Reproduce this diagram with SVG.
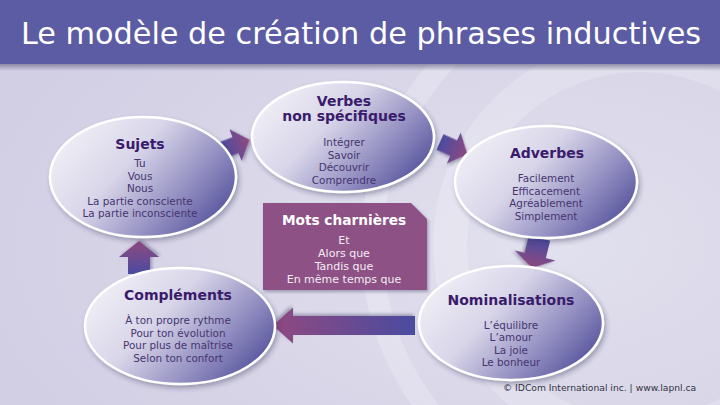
<svg xmlns="http://www.w3.org/2000/svg" width="720" height="405" viewBox="0 0 720 405">
  <defs>
    <radialGradient id="bg" cx="0.75" cy="0.6" r="0.8">
      <stop offset="0" stop-color="#e2e1ee"/>
      <stop offset="1" stop-color="#d2cee4"/>
    </radialGradient>
    <linearGradient id="barShadow" x1="0" y1="0" x2="0" y2="1">
      <stop offset="0" stop-color="#6e6c8c" stop-opacity="0.7"/>
      <stop offset="1" stop-color="#6e6c8c" stop-opacity="0"/>
    </linearGradient>
    <linearGradient id="ell" x1="0.05" y1="0.25" x2="1" y2="0.8">
      <stop offset="0" stop-color="#eeedf5"/>
      <stop offset="0.35" stop-color="#d8d5e9"/>
      <stop offset="0.72" stop-color="#8d89be"/>
      <stop offset="1" stop-color="#4d4c97"/>
    </linearGradient>
    <linearGradient id="arr" x1="0" y1="0" x2="1" y2="0">
      <stop offset="0" stop-color="#4a4ba0"/>
      <stop offset="1" stop-color="#904a80"/>
    </linearGradient>
    <filter id="shadow" x="-20%" y="-20%" width="140%" height="150%">
      <feDropShadow dx="2" dy="3" stdDeviation="2.5" flood-color="#2d2a50" flood-opacity="0.35"/>
    </filter>
    <filter id="ashadow" x="-30%" y="-30%" width="160%" height="160%">
      <feDropShadow dx="1.5" dy="2" stdDeviation="1.5" flood-color="#2d2a50" flood-opacity="0.35"/>
    </filter>
    <style>
      .ell { fill: url(#ell); stroke: #ffffff; stroke-width: 2.5; filter: url(#shadow); }
      .arrow { fill: url(#arr); filter: url(#ashadow); }
      .t { font-family: "DejaVu Sans", Verdana, sans-serif; font-weight: bold; font-size: 14px; fill: #3a1b6b; text-anchor: middle; }
      .i { font-family: "DejaVu Sans", Verdana, sans-serif; font-size: 10.4px; fill: #46356f; text-anchor: middle; }
      .bt { font-family: "DejaVu Sans", Verdana, sans-serif; font-weight: bold; font-size: 13.7px; fill: #ffffff; text-anchor: middle; }
      .bi { font-family: "DejaVu Sans", Verdana, sans-serif; font-size: 11px; fill: #f4ecf4; text-anchor: middle; }
    </style>
  </defs>

  <!-- background -->
  <rect x="0" y="0" width="720" height="405" fill="url(#bg)"/>
  <circle cx="640" cy="245" r="268" fill="none" stroke="#ffffff" stroke-opacity="0.22" stroke-width="22"/>
  <circle cx="640" cy="245" r="190" fill="none" stroke="#ffffff" stroke-opacity="0.2" stroke-width="34"/>

  <!-- title bar -->
  <rect x="0" y="64" width="720" height="7" fill="url(#barShadow)"/>
  <rect x="0" y="0" width="720" height="64" fill="#5c5ca4"/>
  <text x="361" y="44" font-family="DejaVu Sans, Verdana, sans-serif" font-size="30.3" fill="#ffffff" text-anchor="middle">Le modèle de création de phrases inductives</text>

  <!-- connectors -->
  <g id="connectors">
    <path class="arrow" transform="translate(221.5,150.5) rotate(-21)" d="M0,-8.5 L15,-8.5 L15,-17 L30,0 L15,17 L15,8.5 L0,8.5 Z"/>
    <path class="arrow" transform="translate(440,142) rotate(24)" d="M0,-8.5 L15,-8.5 L15,-17 L30,0 L15,17 L15,8.5 L0,8.5 Z"/>
    <path class="arrow" transform="translate(539.5,238) rotate(104)" d="M0,-11 L18,-11 L18,-21 L31,0 L18,21 L18,11 L0,11 Z"/>
    <path class="arrow" transform="translate(415,325.5) rotate(180)" d="M0,-9.5 L122,-9.5 L122,-18 L142,0 L122,18 L122,9.5 L0,9.5 Z"/>
    <path class="arrow" transform="translate(139,274) rotate(-90)" d="M0,-11 L17,-11 L17,-20 L33,0 L17,20 L17,11 L0,11 Z"/>
  </g>

  <!-- nodes -->
  <g id="sujets">
    <ellipse class="ell" cx="143" cy="177" rx="93" ry="60"/>
    <text class="t" x="140" y="148.5">Sujets</text>
    <text class="i" x="140" y="167">Tu</text>
    <text class="i" x="140" y="179.5">Vous</text>
    <text class="i" x="140" y="192">Nous</text>
    <text class="i" x="140" y="204.5">La partie consciente</text>
    <text class="i" x="140" y="217">La partie inconsciente</text>
  </g>

  <g id="verbes">
    <ellipse class="ell" cx="343" cy="137" rx="91" ry="55"/>
    <text class="t" x="344" y="106">Verbes</text>
    <text class="t" x="344" y="121">non spécifiques</text>
    <text class="i" x="344" y="146">Intégrer</text>
    <text class="i" x="344" y="158.5">Savoir</text>
    <text class="i" x="344" y="171">Découvrir</text>
    <text class="i" x="344" y="183.5">Comprendre</text>
  </g>

  <g id="adverbes">
    <ellipse class="ell" cx="546" cy="182" rx="91" ry="56"/>
    <text class="t" x="547" y="157.5">Adverbes</text>
    <text class="i" x="546" y="182">Facilement</text>
    <text class="i" x="546" y="194.5">Efficacement</text>
    <text class="i" x="546" y="207">Agréablement</text>
    <text class="i" x="546" y="219.5">Simplement</text>
  </g>

  <g id="nominalisations">
    <ellipse class="ell" cx="511" cy="323" rx="92" ry="57"/>
    <text class="t" x="511" y="305">Nominalisations</text>
    <text class="i" x="511" y="328.5">L’équilibre</text>
    <text class="i" x="511" y="341">L’amour</text>
    <text class="i" x="511" y="353.5">La joie</text>
    <text class="i" x="511" y="366">Le bonheur</text>
  </g>

  <g id="complements">
    <ellipse class="ell" cx="180" cy="326" rx="95" ry="58"/>
    <text class="t" x="178" y="299.5">Compléments</text>
    <text class="i" x="178" y="324">À ton propre rythme</text>
    <text class="i" x="178" y="336.5">Pour ton évolution</text>
    <text class="i" x="178" y="349">Pour plus de maîtrise</text>
    <text class="i" x="178" y="361.5">Selon ton confort</text>
  </g>

  <g id="mots-charnieres">
    <polygon points="263,203 411,203 427,219 427,290 263,290" fill="#8d5186" filter="url(#ashadow)"/>
    <text class="bt" x="344" y="224.5">Mots charnières</text>
    <text class="bi" x="344" y="244">Et</text>
    <text class="bi" x="344" y="257">Alors que</text>
    <text class="bi" x="344" y="270">Tandis que</text>
    <text class="bi" x="344" y="283">En même temps que</text>
  </g>

  <text x="503" y="390.5" font-family="DejaVu Sans, Verdana, sans-serif" font-size="9.2" fill="#333344">© IDCom International inc. | www.lapnl.ca</text>
</svg>
